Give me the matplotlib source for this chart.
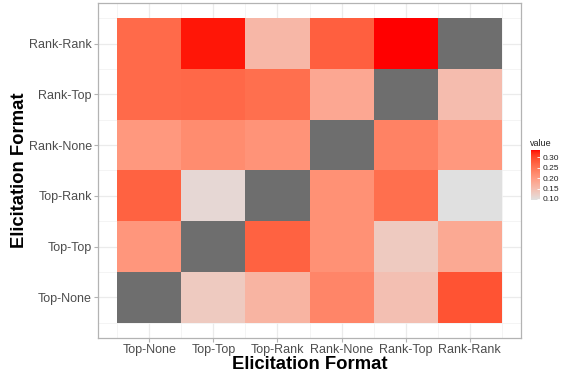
import numpy as np
import matplotlib
matplotlib.use("Agg")
import matplotlib.pyplot as plt
from matplotlib.colors import ListedColormap, to_rgb

nan = np.nan

# Elicitation formats (same order on both axes, bottom-to-top on y)
formats = ["Top-None", "Top-Top", "Top-Rank", "Rank-None", "Rank-Top", "Rank-Rank"]

# One list per y-row; columns follow `formats`; diagonal is missing
top_none = [nan, 0.129, 0.162, 0.229, 0.145, 0.289]
top_top = [0.205, nan, 0.273, 0.213, 0.129, 0.179]
top_rank = [0.273, 0.109, nan, 0.213, 0.258, 0.095]
rank_none = [0.203, 0.220, 0.210, nan, 0.232, 0.203]
rank_top = [0.263, 0.265, 0.258, 0.181, nan, 0.150]
rank_rank = [0.263, 0.330, 0.157, 0.275, 0.335, nan]

legend_ticks = [0.10, 0.15, 0.20, 0.25, 0.30]

values = np.array([top_none, top_top, top_rank, rank_none, rank_top, rank_rank])


# --- gradient interpolated in CIE Lab, low -> high ---
def srgb_to_lab(rgb):
    c = np.asarray(rgb, float)
    lin = np.where(c <= 0.04045, c / 12.92, ((c + 0.055) / 1.055) ** 2.4)
    m = np.array([[0.4124, 0.3576, 0.1805],
                  [0.2126, 0.7152, 0.0722],
                  [0.0193, 0.1192, 0.9505]])
    xyz = m @ lin / np.array([0.95047, 1.0, 1.08883])
    f = np.where(xyz > 0.008856, np.cbrt(xyz), 7.787 * xyz + 16 / 116)
    return np.array([116 * f[1] - 16, 500 * (f[0] - f[1]), 200 * (f[1] - f[2])])


def lab_to_srgb(lab):
    L, a, b = lab
    fy = (L + 16) / 116
    fx = fy + a / 500
    fz = fy - b / 200
    f = np.array([fx, fy, fz])
    xyz = np.where(f ** 3 > 0.008856, f ** 3, (f - 16 / 116) / 7.787)
    xyz = xyz * np.array([0.95047, 1.0, 1.08883])
    minv = np.array([[3.2406, -1.5372, -0.4986],
                     [-0.9689, 1.8758, 0.0415],
                     [0.0557, -0.2040, 1.0570]])
    lin = np.clip(minv @ xyz, 0, 1)
    c = np.where(lin <= 0.0031308, 12.92 * lin, 1.055 * lin ** (1 / 2.4) - 0.055)
    return np.clip(c, 0, 1)


low_lab = srgb_to_lab(to_rgb("#E0E0E0"))
high_lab = srgb_to_lab(to_rgb("#FF0000"))
cols = [lab_to_srgb(low_lab + t * (high_lab - low_lab)) for t in np.linspace(0, 1, 256)]
cmap = ListedColormap(cols)
cmap.set_bad("#6E6E6E")

W, H = 565, 374
fig = plt.figure(figsize=(W / 100, H / 100), dpi=100)
fig.patch.set_facecolor("white")

ax = fig.add_axes([98 / W, 1 - 338 / H, 423 / W, 335 / H])
n = len(formats)
idx = np.arange(n)

# grid: major at tile centres, minor at tile edges
for p in idx:
    ax.axvline(p, color="#EBEBEB", lw=0.9, zorder=0)
    ax.axhline(p, color="#EBEBEB", lw=0.9, zorder=0)
for p in np.arange(-0.5, n, 1.0):
    ax.axvline(p, color="#F2F2F2", lw=0.6, zorder=0)
    ax.axhline(p, color="#F2F2F2", lw=0.6, zorder=0)

edges = np.arange(-0.5, n, 1.0)
vmin, vmax = np.nanmin(values), np.nanmax(values)
mesh = ax.pcolormesh(edges, edges, np.ma.masked_invalid(values), cmap=cmap,
                     vmin=vmin, vmax=vmax, zorder=1)

ax.set_xlim(-0.8, n - 0.2)
ax.set_ylim(-0.8, n - 0.2)
ax.set_xticks(idx)
ax.set_yticks(idx)
ax.set_xticklabels(formats)
ax.set_yticklabels(formats)
ax.tick_params(axis="both", length=3, width=0.8, color="#B3B3B3",
               labelsize=9, labelcolor="#4D4D4D", pad=1.5)
for lab in ax.get_xticklabels() + ax.get_yticklabels():
    lab.set_fontfamily("Liberation Sans")
for s in ax.spines.values():
    s.set_color("#B3B3B3")
    s.set_linewidth(0.9)

fig.text(309.5 / W, 1 - 364.5 / H, "Elicitation Format", ha="center", va="center",
         fontsize=13.3, fontweight="bold", family="Liberation Sans")
fig.text(20 / W, 1 - 170.5 / H, "Elicitation Format", ha="center", va="center",
         rotation=90, fontsize=13.3, fontweight="bold", family="Liberation Sans")

# colour legend
cax = fig.add_axes([531 / W, 1 - 200 / H, 9 / W, 50 / H])
cb = fig.colorbar(mesh, cax=cax, ticks=legend_ticks)
cb.outline.set_visible(False)
cb.ax.tick_params(length=2, width=0.6, color="white", direction="in",
                  labelsize=6, pad=2, labelcolor="#222222")
cb.ax.set_yticklabels([f"{t:.2f}" for t in legend_ticks])
for lab in cb.ax.get_yticklabels():
    lab.set_fontfamily("Liberation Sans")
fig.text(530 / W, 1 - 143 / H, "value", ha="left", va="center",
         fontsize=6.5, family="Liberation Sans", color="#222222")

fig.savefig("out.png", dpi=100, facecolor="white")
